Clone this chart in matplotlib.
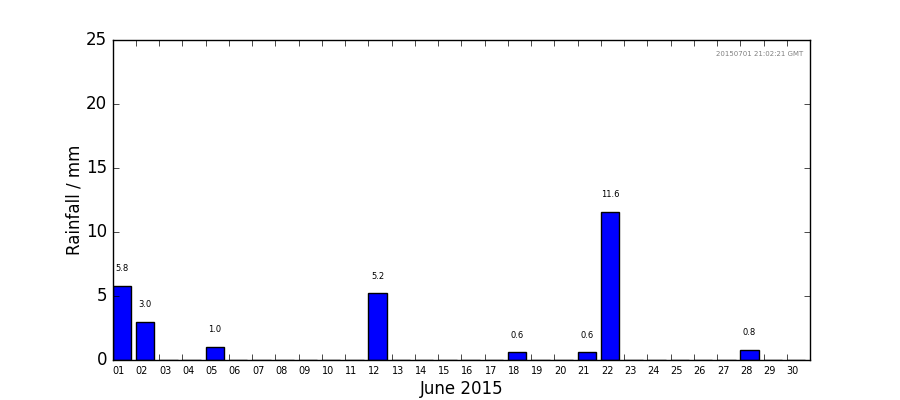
import matplotlib
matplotlib.use("Agg")
import matplotlib.pyplot as plt
import numpy as np

plt.style.use('classic')

days = ["%02d" % d for d in range(1, 31)]
rain = [5.8, 3.0, 0, 0, 1.0, 0, 0, 0, 0, 0,
        0, 5.2, 0, 0, 0, 0, 0, 0.6, 0, 0,
        0.6, 11.6, 0, 0, 0, 0, 0, 0.8, 0, 0]
xlabel = "June 2015"
ylabel = "Rainfall / mm"
stamp = "20150701 21:02:21 GMT"

fig = plt.figure(figsize=(9, 4), dpi=100)
fig.patch.set_facecolor('white')
ax = fig.add_subplot(111)
x = np.arange(len(days))
ax.bar(x, rain, width=0.8, align='edge', color='blue', edgecolor='black')
for xi, v in zip(x, rain):
    if v > 0:
        ax.text(xi + 0.4, v + 1.0, "%.1f" % v, ha='center', va='bottom', fontsize=6)
ax.set_xlim(0, 30)
ax.set_ylim(0, 25)
ax.set_xticks(x)
ax.set_xticklabels(days, fontsize=7, ha='left')
ax.set_ylabel(ylabel, fontsize=12, labelpad=1.5)
ax.set_xlabel(xlabel, fontsize=12, labelpad=3)
ax.text(0.99, 0.965, stamp, transform=ax.transAxes, ha='right', va='top', fontsize=5, color='gray')
fig.savefig("out.png", dpi=100, facecolor='white')
